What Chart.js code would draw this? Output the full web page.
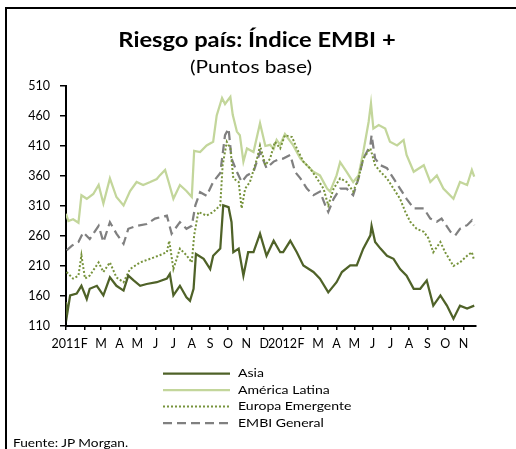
<!DOCTYPE html>
<html>
<head>
<meta charset="utf-8">
<script src="https://cdn.jsdelivr.net/npm/chart.js@4"></script>
<style>
  html, body { margin:0; padding:0; background:#fff; }
  body { width:516px; height:449px; position:relative; overflow:hidden; font-family: Lato, "Open Sans", sans-serif; }
  #frame { position:absolute; left:5px; top:7px; width:700px; height:700px; border-left:2px solid #000; border-top:2px solid #000; }
  #title { position:absolute; left:0; width:514px; top:26px; line-height:normal; text-align:center; font-weight:bold; font-size:21px; color:#000; transform:scaleX(1.13); transform-origin:257px 0; white-space:nowrap; }
  #subtitle { position:absolute; left:0; width:502px; top:55px; line-height:normal; text-align:center; font-size:18px; color:#000; transform:scaleX(1.16); transform-origin:251px 0; white-space:nowrap; }
  #source { position:absolute; left:13px; top:436px; font-size:11.5px; color:#000; transform:scaleX(1.19); transform-origin:0 0; white-space:nowrap; }
  canvas { position:absolute; left:0; top:0; }
</style>
</head>
<body>
<div id="frame"></div>
<canvas id="c" width="516" height="449"></canvas>
<div id="title">Riesgo país: Índice EMBI +</div>
<div id="subtitle">(Puntos base)</div>
<div id="source">Fuente: JP Morgan.</div>
<script>
// Days counted from 2011-01-01
const monthDays = [0,31,59,90,120,151,181,212,243,273,304,334,365,396,425,456,486,517,547,578,609,639,670];
const monthLabels = ['2011','F','M','A','M','J','J','A','S','O','N','D','2012','F','M','A','M','J','J','A','S','O','N'];
const yTicks = [110,160,210,260,310,360,410,460,510];

const asiaDays = [0,2,7,18,26,35,40,52,63,74,85,97,105,114,125,136,153,170,175,181,192,203,209,215,219,232,243,248,260,265,274,279,282,291,299,307,316,327,338,350,361,366,378,389,400,417,428,442,456,465,479,490,501,513,515,521,530,541,552,563,574,586,597,608,619,631,642,653,664,676,688];
const asiaVals = [150,130,161,164,177,155,172,177,161,191,177,169,194,186,177,180,183,189,197,161,177,158,152,172,230,222,205,227,239,311,308,283,233,239,194,233,233,264,227,252,233,233,252,233,211,200,189,166,183,200,211,211,239,261,277,250,239,227,222,205,194,172,172,186,144,161,144,122,144,139,144];

const latamDays = [0,4,12,21,26,35,46,55,63,74,85,97,108,119,130,142,153,158,167,173,181,192,203,212,216,226,237,248,254,263,268,277,281,288,293,299,305,316,327,336,344,350,355,361,369,383,395,406,417,428,440,445,456,462,473,484,493,501,510,514,518,527,538,546,558,569,574,586,603,614,625,636,653,664,676,684,688];
const latamVals = [297,285,288,282,328,322,330,345,314,356,325,311,335,350,345,350,355,361,370,350,322,345,335,325,402,400,411,417,461,490,480,492,462,434,428,384,406,400,448,410,412,405,420,412,430,411,389,378,367,361,339,334,361,383,367,350,361,400,450,481,439,445,439,417,411,420,395,367,378,350,361,339,322,350,345,370,359];

const europaDays = [1,12,21,26,32,40,55,63,74,85,97,108,125,142,158,170,174,181,192,203,212,216,223,237,248,260,264,271,277,282,291,296,302,310,322,327,336,344,352,361,369,381,389,400,411,423,434,442,451,462,473,484,493,501,513,521,530,541,552,563,572,580,591,603,611,619,631,639,653,664,676,684,688];
const europaVals = [200,189,194,228,189,194,216,200,216,191,183,205,216,222,228,233,252,205,239,228,216,261,300,294,300,311,378,417,406,356,350,306,339,350,389,411,378,389,417,406,428,425,406,384,373,356,339,311,339,356,350,334,356,389,406,378,367,356,339,322,300,284,272,267,256,233,250,233,210,216,227,233,219];

const embiDays = [1,10,21,29,40,55,63,74,85,97,105,119,136,150,170,178,192,203,212,218,226,237,248,260,268,274,279,288,296,305,316,327,338,350,361,366,378,386,395,406,417,428,437,442,451,462,473,484,493,501,513,515,521,530,541,552,563,574,586,603,614,625,633,648,656,664,676,684,688];
const embiVals = [236,244,250,266,255,277,250,283,264,247,272,277,280,289,294,264,283,272,277,311,333,327,350,365,428,439,389,367,350,361,367,400,373,384,389,389,395,367,356,339,328,334,311,300,322,339,339,328,356,389,411,428,389,378,373,356,339,322,306,306,289,284,289,267,261,272,278,286,278];

const seriesNames = ['Asia','América Latina','Europa Emergente','EMBI General'];

function pts(d, v) { return d.map((x, i) => ({ x: x, y: v[i] })); }

const legendPlugin = {
  id: 'vlegend',
  afterDraw(chart) {
    const ctx = chart.ctx;
    chart.data.datasets.forEach((ds, i) => {
      const y = 373.5 + i * 16.5;
      ctx.save();
      ctx.strokeStyle = ds.borderColor;
      ctx.lineWidth = ds.borderWidth;
      ctx.setLineDash(ds.borderDash || []);
      ctx.beginPath();
      ctx.moveTo(163, y);
      ctx.lineTo(230, y);
      ctx.stroke();
      ctx.setLineDash([]);
      ctx.fillStyle = '#000';
      ctx.font = '11.8px Lato';
      ctx.textBaseline = 'middle';
      ctx.translate(238, y);
      ctx.scale(1.19, 1);
      ctx.fillText(ds.label, 0, 0);
      ctx.restore();
    });
  }
};

new Chart(document.getElementById('c'), {
  type: 'line',
  data: {
    datasets: [
      { label: seriesNames[0], data: pts(asiaDays, asiaVals), borderColor: '#4F6228', borderWidth: 2.25, order: 1 },
      { label: seriesNames[1], data: pts(latamDays, latamVals), borderColor: '#C3D69B', borderWidth: 2.25, order: 4 },
      { label: seriesNames[2], data: pts(europaDays, europaVals), borderColor: '#77933C', borderWidth: 2, borderDash: [2, 2], order: 2 },
      { label: seriesNames[3], data: pts(embiDays, embiVals), borderColor: '#808080', borderWidth: 2.25, borderDash: [9, 5], order: 3 }
    ]
  },
  options: {
    responsive: false,
    animation: false,
    devicePixelRatio: 1,
    layout: { padding: { left: 0, top: 86, right: 40, bottom: 0 } },
    elements: { point: { radius: 0 }, line: { tension: 0 } },
    plugins: { legend: { display: false }, title: { display: false }, tooltip: { enabled: false } },
    scales: {
      x: {
        type: 'linear',
        min: 0,
        max: 691,
        afterBuildTicks: (scale) => { scale.ticks = monthDays.map(v => ({ value: v })); },
        afterFit: (scale) => { scale.height = 123; },
        ticks: {
          autoSkip: false,
          maxRotation: 0,
          padding: 6,
          color: '#000',
          font: { family: 'Lato', size: 12.5 },
          callback: (value, index) => monthLabels[index]
        },
        grid: { drawOnChartArea: false, drawTicks: true, tickLength: 4, color: '#000', lineWidth: 1.5 },
        border: { color: '#000', width: 2 }
      },
      y: {
        min: 110,
        max: 510,
        afterBuildTicks: (scale) => { scale.ticks = yTicks.map(v => ({ value: v })); },
        afterFit: (scale) => { scale.width = 66; },
        ticks: { padding: 10, color: '#000', font: { family: 'Lato', size: 12.5 } },
        grid: { drawOnChartArea: false, drawTicks: true, tickLength: 6, color: '#000', lineWidth: 1.5 },
        border: { color: '#000', width: 2 }
      }
    }
  },
  plugins: [legendPlugin]
});
</script>
</body>
</html>
